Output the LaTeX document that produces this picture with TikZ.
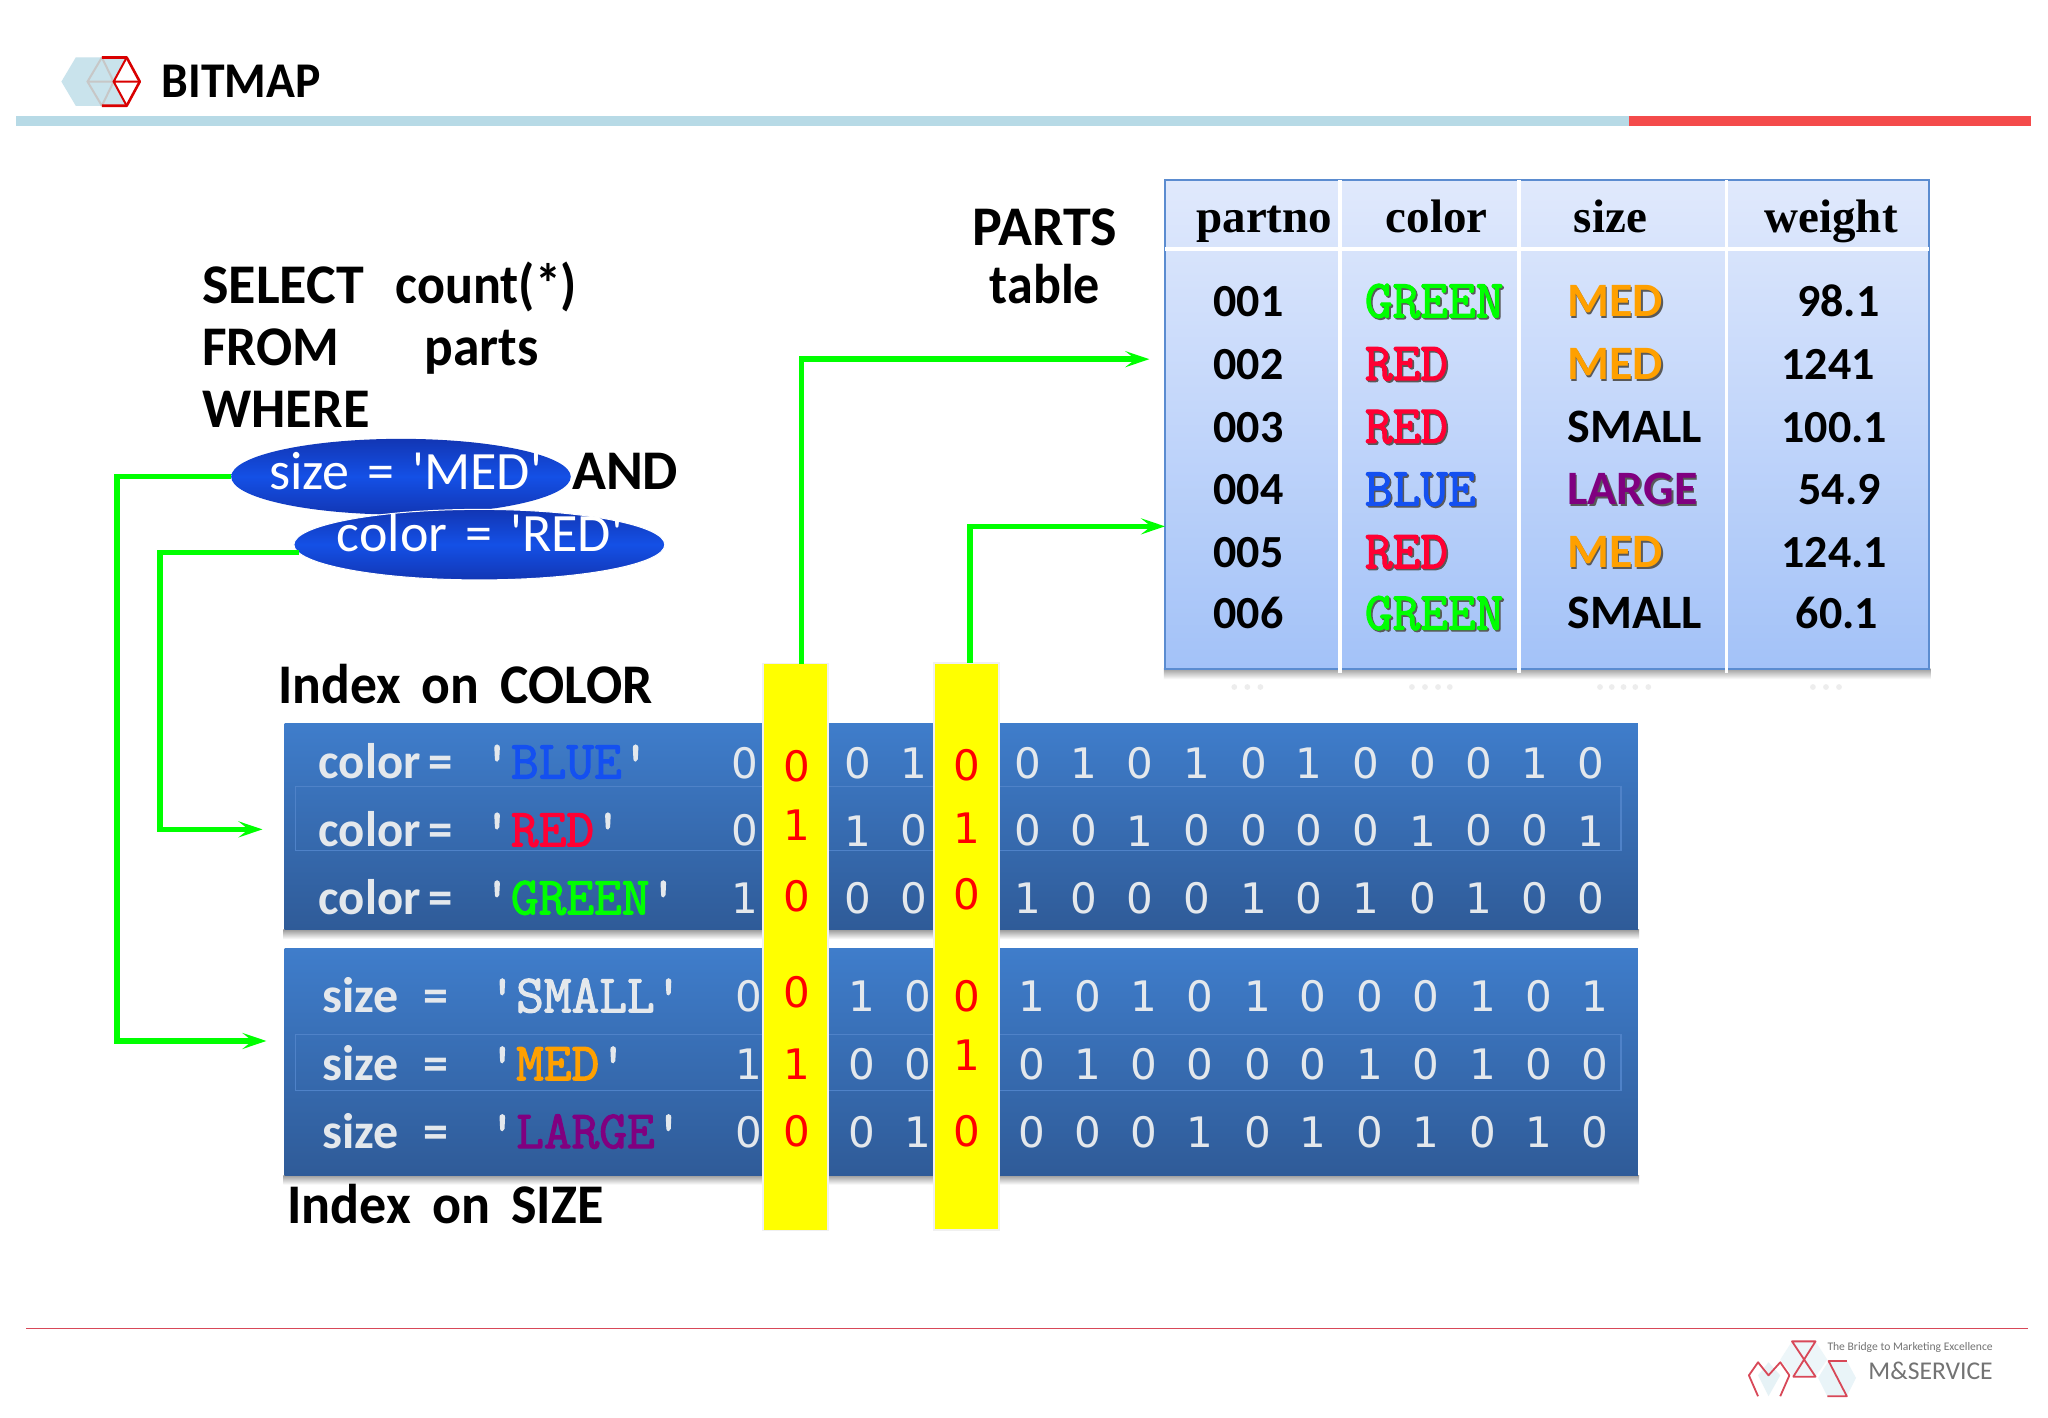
\documentclass[tikz,border=0pt]{standalone}
\usepackage{fontspec}
\usepackage{graphicx}
\usetikzlibrary{arrows.meta,calc,shapes.geometric}
\setmainfont{Carlito}
\newfontfamily\cbr{Carlito}
\newfontfamily\ls{Liberation Serif}
\newfontfamily\dm{DejaVu Sans}
\newfontfamily\slab{Latin Modern Mono}[FakeBold=2.2]
\definecolor{gr}{HTML}{00FF00}
\definecolor{barblue}{HTML}{B7DAE6}
\definecolor{barred}{HTML}{F44B4B}
\definecolor{lbl}{HTML}{E4E8EC}
\definecolor{org}{HTML}{FFA000}
\definecolor{pur}{HTML}{800080}
\definecolor{rd}{HTML}{FF0033}
\definecolor{blu}{HTML}{1450F0}
\definecolor{yl}{HTML}{FFFF00}
\definecolor{rr}{HTML}{FF0000}
\definecolor{ff3F7DCB}{HTML}{3F7DCB}
\definecolor{ff2F5B98}{HTML}{2F5B98}
\definecolor{ff5B8CD0}{HTML}{5B8CD0}
\definecolor{inb}{HTML}{4F82C8}
\definecolor{ff1236B4}{HTML}{1236B4}
\definecolor{ff1450E6}{HTML}{1450E6}
\definecolor{ffD06070}{HTML}{D84858}
\definecolor{tbltop}{HTML}{E0E9FC}
\definecolor{tblbot}{HTML}{A3C2F8}
\def\u{0.6531pt}
\newcommand\shd[2]{\makebox[0pt][l]{\hspace{.8pt}\raisebox{-.8pt}{\textcolor{black!65}{#2}}}\textcolor{#1}{#2}}
\newcommand\hs[2]{\scalebox{#1}[1]{#2}}
\tikzset{
 txt/.style={anchor=base west,inner sep=0pt,outer sep=0pt},
 big/.style={txt,font=\fontsize{28}{30}\selectfont\bfseries},
 cell/.style={txt,font=\fontsize{23}{24}\selectfont\bfseries},
 cellw/.style={txt,font=\fontsize{24}{25}\selectfont\bfseries},
 mono/.style={txt,font=\fontsize{26.9}{28}\slab},
 hdr/.style={anchor=base,inner sep=0pt,font=\fontsize{23.5}{24}\ls\bfseries},
 bit/.style={anchor=center,inner sep=0pt,text=lbl,font=\fontsize{21}{22}\dm},
 red bit/.style={anchor=center,inner sep=0pt,text=rr,font=\fontsize{21}{22}\dm},
 panel/.style={rectangle,anchor=north west,inner sep=0pt,outer sep=0pt,minimum width=1036*\u,top color=ff3F7DCB,bottom color=ff2F5B98},
 inbox/.style={draw=inb,line width=.6pt,fill=none},
 yel/.style={rectangle,anchor=north west,inner sep=0pt,outer sep=0pt,fill=yl,draw=black!6,line width=.8pt,minimum width=50*\u,minimum height=434*\u},
 oval/.style={ellipse,inner sep=0pt,outer sep=0pt,top color=ff1236B4,bottom color=ff1236B4,middle color=ff1450E6},
 conn/.style={draw=gr,line width=2.7pt,line join=miter},
 connh/.style={-{Stealth[length=12pt,width=8pt,inset=5pt]},conn},
 label/.style={txt,text=lbl,font=\fontsize{25}{26}\selectfont\bfseries},
 mlabel/.style={txt,text=lbl,font=\fontsize{26.9}{28}\slab},
 lg/.style={draw=ffD06070,line width=.9pt,line join=round},
 softshadow/.style={top color=black!38,bottom color=white},
}
\newcommand\bitrow[4]{% y, xshift, name, bits
 \foreach \xx [count=\i] in {570,657,700,787,830,873,916,960,1002,1046,1089,1132,1175,1218}{
  \pgfmathsetmacro\xp{\xx+#2}
  \pgfmathtruncatemacro\ii{\i}
  \foreach \b [count=\j] in {#4}{
   \ifnum\j=\ii \node[bit] (#3-\i) at (\xp,#1) {\b}; \fi
  }
 }}
\begin{document}
\begin{tikzpicture}[x=0.6531pt,y=-0.6531pt]
\useasboundingbox (0,0) rectangle (1568,1085.6);
\fill[white] (0,0) rectangle (1568,1085.6);
% header
\fill[barblue] (12,88.6) rectangle (1247,96.8);
\fill[barred] (1247,88.6) rectangle (1555,96.8);
\fill[barblue!75] (47,62.5) -- (58,44) -- (97,44) -- (87,62.5) -- (97,81) -- (58,81) -- cycle;
\draw[draw=black!22,line width=1pt] (78,44) -- (67,62.5) -- (78,81) (67,62.5) -- (87,62.5) (78,44) -- (87,62.5) -- (78,81);
\draw[rr!85!black,line width=1.3pt,line join=round] (78,81) -- (97,81) -- (107,62.5) -- (97,44) -- (78,44);
\draw[rr!85!black,line width=1pt] (97,44) -- (87,62.5) -- (97,81) (87,62.5) -- (107,62.5);
\node[txt,font=\fontsize{25}{26}\selectfont\bfseries] (title) at (124,75) {\hs{.953}{BITMAP}};
% query
\node[big] (sel) at (155,232) {SELECT};
\node[big] (cnt) at (303,232) {\hs{.93}{count(*)}};
\node[big] (frm) at (155,280) {\hs{.955}{FROM}};
\node[big] (prt) at (325,280) {\hs{.955}{parts}};
\node[big] (whr) at (155,327) {\hs{.97}{WHERE}};
\node[big] (andw) at (438,375) {AND};
\node[oval,minimum width=260*\u,minimum height=58*\u] (m1) at (307,365) {};
\node[txt,text=white,font=\fontsize{27}{28}\cbr] (m1t) at (206,374.5) {size\,\,=\,\,'MED'};
\node[oval,draw=white,line width=.5pt,minimum width=284*\u,minimum height=54*\u] (c1) at (367,417) {};
\node[txt,text=white,font=\fontsize{27}{28}\cbr] (c1t) at (258,422.5) {color\,\,=\,\,'RED'};
\node[big,anchor=base] (pt1) at (800,188) {PARTS};
\node[big,anchor=base] (pt2) at (800,232) {\hs{.93}{table}};
% table
\shade[softshadow] (891,512) rectangle (1478,520);
\node[rectangle,anchor=north west,inner sep=0pt,outer sep=0pt,draw=ff5B8CD0,line width=.9pt,top color=tbltop,bottom color=tblbot,minimum width=585*\u,minimum height=374*\u] (tbl) at (892,138) {};
\draw[white,line width=1.7pt] (1026,138) -- (1026,515) (1163,138) -- (1163,515) (1322,138) -- (1322,515) (892,190.5) -- (1477,190.5);
\foreach \n/\t/\p in {h1/partno/968,h2/color/1100,h3/size/1233,h4/weight/1402}{
 \node[hdr] (\n) at (\p,178) {\t};}
\foreach \t/\y [count=\i] in {001/242.5,002/290.5,003/338.5,004/386.5,005/434.5,006/481.5}{
 \node[cell] (p\i) at (929,\y) {\t};}
\node[mono] (c1c) at (1045,243) {\shd{gr}{GREEN}};
\node[mono] (c2c) at (1045,291) {\shd{rd}{RED}};
\node[mono] (c3c) at (1045,339) {\shd{rd}{RED}};
\node[mono] (c4c) at (1045,387) {\shd{blu}{BLUE}};
\node[mono] (c5c) at (1045,435) {\shd{rd}{RED}};
\node[mono] (c6c) at (1045,482) {\shd{gr}{GREEN}};
\node[cellw] (s1) at (1200,242.5) {\shd{org}{MED}};
\node[cellw] (s2) at (1200,290.5) {\shd{org}{MED}};
\node[cellw] (s3) at (1200,338.5) {SMALL};
\node[cellw] (s4) at (1200,386.5) {\shd{pur}{LARGE}};
\node[cellw] (s5) at (1200,434.5) {\shd{org}{MED}};
\node[cellw] (s6) at (1200,481.5) {SMALL};
\foreach \t/\x/\y [count=\i] in {98.1/1376/242.5,1241/1364/290.5,100.1/1364/338.5,54.9/1377/386.5,124.1/1364/434.5,60.1/1375/481.5}{
 \node[cell] (w\i) at (\x,\y) {\t};}
\foreach \x in {945,955,965,1081,1091,1101,1110,1225,1234,1243,1252,1262,1388,1398,1408}{
 \fill[black!7] (\x,526) circle (2.2);}
% index panels
\node[big] (ixc) at (213,539) {\hs{.957}{Index\, on\, COLOR}};
\shade[softshadow] (217,712) rectangle (1255,719);
\node[panel,minimum height=158*\u] (pc) at (218,554) {};
\draw[inbox] (226,602) rectangle (1241,651);
\shade[softshadow] (217,900) rectangle (1255,907);
\node[panel,minimum height=174*\u] (ps) at (218,726) {};
\draw[inbox] (226,792) rectangle (1241,835);
\node[big] (ixs) at (220,937) {\hs{.965}{Index\, on\, SIZE}};
% row labels
\foreach \y/\w/\c [count=\i] in {596/BLUE/blu,648/RED/rd,700/GREEN/gr}{
 \node[label] (lc\i) at (244,\y) {\hs{.975}{color\,=}};
 \node[mlabel] (mc\i) at (370,\y) {'\textcolor{\c}{\w}'};}
\foreach \y/\w/\c [count=\i] in {775/SMALL/lbl,827/MED/org,879/LARGE/pur}{
 \node[label] (ls\i) at (247,\y) {size\,\,\,=};
 \node[mlabel] (ms\i) at (374,\y) {'\textcolor{\c}{\w}'};}
% bits
\bitrow{584}{0}{ba}{0,0,1,0,1,0,1,0,1,0,0,0,1,0}
\bitrow{636}{0}{bb}{0,1,0,0,0,1,0,0,0,0,1,0,0,1}
\bitrow{688}{0}{bc}{1,0,0,1,0,0,0,1,0,1,0,1,0,0}
\bitrow{763}{3}{bd}{0,1,0,1,0,1,0,1,0,0,0,1,0,1}
\bitrow{815}{3}{be}{1,0,0,0,1,0,0,0,0,1,0,1,0,0}
\bitrow{867}{3}{bf}{0,0,1,0,0,0,1,0,1,0,1,0,1,0}
% yellow columns
\node[yel] (y1) at (584,508) {};
\node[yel] (y2) at (715,507.5) {};
\foreach \y/\b [count=\i] in {587/0,632/1,686/0,760/0,815/1,866/0}{
 \node[red bit] (ra\i) at (610,\y) {\b};}
\foreach \y/\b [count=\i] in {586/0,634/1,685/0,763/0,808/1,866/0}{
 \node[red bit] (rb\i) at (740,\y) {\b};}
% connectors
\coordinate (ac) at (201,635);
\coordinate (as) at (204,797);
\coordinate (at) at (880,275);
\draw[connh] (m1.west) -- (89.5,365) -- (89.5,797) -- (as);
\draw[connh] ($(c1.west)+(4,6)$) -- (122.5,423) -- (122.5,635) -- (ac);
\draw[connh] ($(y1.north west)+(29.5,0)$) -- (613.5,275) -- (at);
\draw[connh] ($(y2.north west)+(27.5,0)$) -- (742.5,403) -- (tbl.west |- 0,403);
% footer
\draw[draw=ffD06070,line width=.8pt] (20,1017) -- (1553,1017);
\fill[barblue!35] (1346,1053) -- (1354,1043) -- (1363,1053) -- (1354,1069) -- cycle;
\fill[barblue!30] (1400,1042) -- (1414,1042) -- (1421,1055) -- (1414,1069) -- (1399,1069) -- (1392,1055) -- cycle;
\fill[barblue!25] (1372,1027) -- (1390,1027) -- (1399,1041) -- (1390,1054) -- (1373,1054) -- (1363,1041) -- cycle;
\draw[lg] (1346,1069) -- (1339,1053) -- (1346,1043) -- (1354,1053) -- (1363,1043) -- (1370,1053) -- (1363,1069);
\draw[lg] (1372,1027) -- (1390,1027) -- (1373,1054) -- (1390,1054) -- cycle;
\draw[lg] (1414,1042) -- (1400,1042) -- (1414,1069) -- (1399,1069);
\node[anchor=base east,inner sep=0pt,text=black!55,font=\fontsize{5.8}{7}\selectfont] (tag) at (1526,1034) {The Bridge to Marketing Excellence};
\node[anchor=base east,inner sep=0pt,text=black!55,font=\fontsize{12.8}{14}\selectfont] (brand) at (1526,1056) {M\&SERVICE};
\end{tikzpicture}
\end{document}
